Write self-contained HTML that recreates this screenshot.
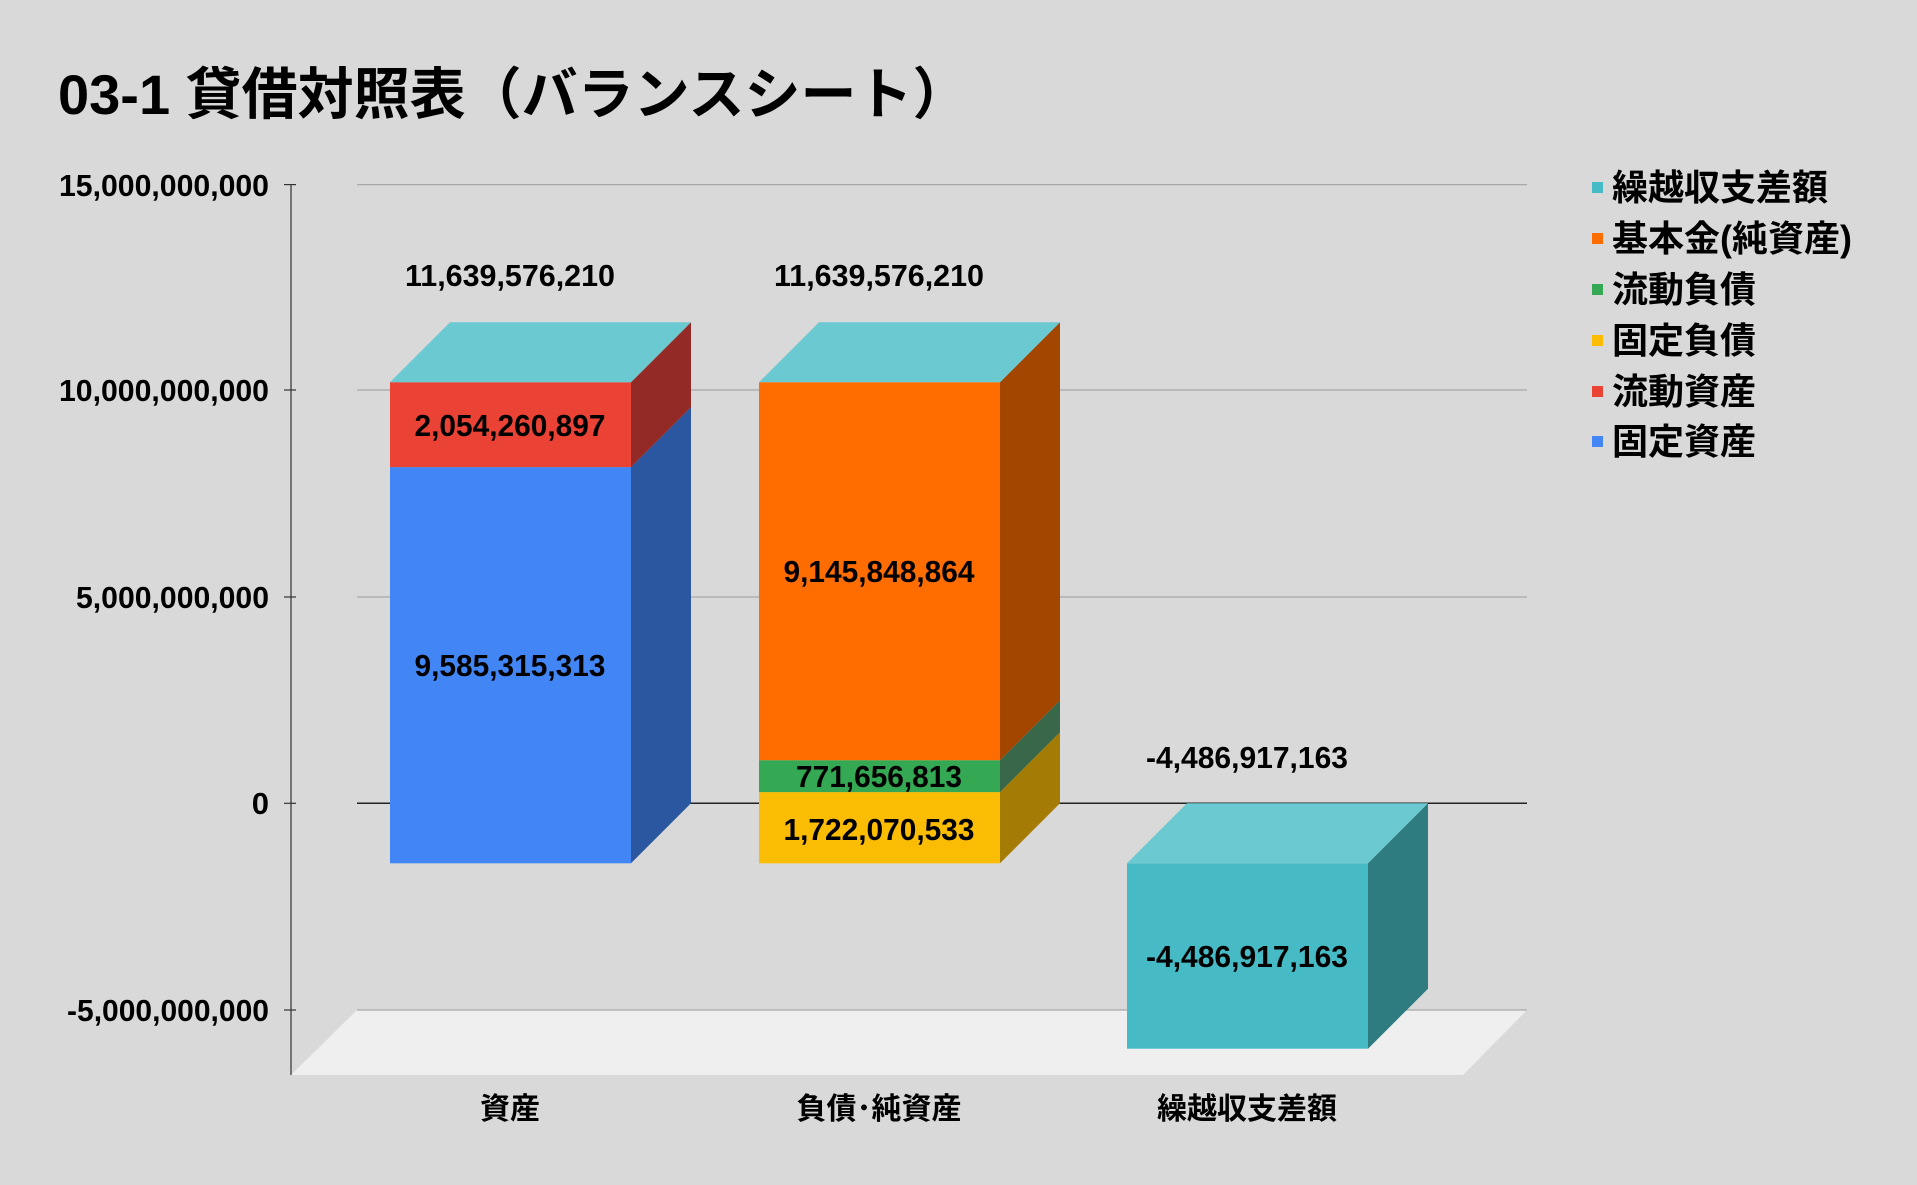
<!DOCTYPE html>
<html><head><meta charset="utf-8"><style>
html,body{margin:0;padding:0;background:#d9d9d9;}
svg{display:block;}
text{font-family:"Liberation Sans","Noto Sans CJK JP",sans-serif;font-weight:bold;fill:#000;}
</style></head><body>
<svg width="1917" height="1185" viewBox="0 0 1917 1185" xmlns="http://www.w3.org/2000/svg">
<rect width="1917" height="1185" fill="#d9d9d9"/>
<text x="58" y="114" font-size="56">03-1 貸借対照表（バランスシート）</text>
<polygon points="357,1010 1527,1010 1463,1075 291,1075" fill="#efefef"/>
<g stroke="#a8a8a8" stroke-width="1.2">
<line x1="357" y1="184.6" x2="1527" y2="184.6"/>
<line x1="357" y1="390" x2="1527" y2="390"/>
<line x1="357" y1="597" x2="1527" y2="597"/>
<line x1="357" y1="1010" x2="1527" y2="1010"/>
</g>
<line x1="357" y1="803.3" x2="1527" y2="803.3" stroke="#222" stroke-width="1.5"/>
<g stroke="#333" stroke-width="1.2">
<line x1="291" y1="184" x2="291" y2="1075"/>
<line x1="284" y1="184.6" x2="296" y2="184.6"/>
<line x1="284" y1="390" x2="296" y2="390"/>
<line x1="284" y1="597" x2="296" y2="597"/>
<line x1="284" y1="803.3" x2="296" y2="803.3"/>
<line x1="284" y1="1010" x2="296" y2="1010"/>
</g>
<g font-size="31" text-anchor="end" lengthAdjust="spacingAndGlyphs">
<text x="269" y="196" textLength="210" lengthAdjust="spacingAndGlyphs">15,000,000,000</text>
<text x="269" y="401" textLength="210" lengthAdjust="spacingAndGlyphs">10,000,000,000</text>
<text x="269" y="608" textLength="193" lengthAdjust="spacingAndGlyphs">5,000,000,000</text>
<text x="269" y="814">0</text>
<text x="269" y="1021" textLength="202" lengthAdjust="spacingAndGlyphs">-5,000,000,000</text>
</g>
<rect x="390" y="467.1" width="241" height="396.2" fill="#4285f4"/>
<rect x="390" y="382.2" width="241" height="84.9" fill="#ea4335"/>
<polygon points="631,863.3 691,803.3 691,407.1 631,467.1" fill="#2b56a0"/>
<polygon points="631,467.1 691,407.1 691,322.2 631,382.2" fill="#942a25"/>
<polygon points="390,382.2 631,382.2 691,322.2 450,322.2" fill="#6bc9d1"/>
<rect x="759" y="792.1" width="241" height="71.2" fill="#fbbc04"/>
<rect x="759" y="760.2" width="241" height="31.9" fill="#34a853"/>
<rect x="759" y="382.2" width="241" height="378" fill="#ff6d01"/>
<polygon points="1000,863.3 1060,803.3 1060,732.1 1000,792.1" fill="#a37b05"/>
<polygon points="1000,792.1 1060,732.1 1060,700.2 1000,760.2" fill="#386849"/>
<polygon points="1000,760.2 1060,700.2 1060,322.2 1000,382.2" fill="#a34700"/>
<polygon points="759,382.2 1000,382.2 1060,322.2 819,322.2" fill="#6bc9d1"/>
<rect x="1127" y="863.3" width="241" height="185.4" fill="#46bbc6"/>
<polygon points="1368,1048.7 1428,988.7 1428,803.3 1368,863.3" fill="#2e7b80"/>
<polygon points="1127,863.3 1368,863.3 1428,803.3 1187,803.3" fill="#6bc9d1"/>
<g font-size="31" text-anchor="middle">
<text x="510" y="286" textLength="210" lengthAdjust="spacingAndGlyphs">11,639,576,210</text>
<text x="879" y="286" textLength="210" lengthAdjust="spacingAndGlyphs">11,639,576,210</text>
<text x="510" y="436" textLength="191" lengthAdjust="spacingAndGlyphs">2,054,260,897</text>
<text x="510" y="676" textLength="191" lengthAdjust="spacingAndGlyphs">9,585,315,313</text>
<text x="879" y="582" textLength="191" lengthAdjust="spacingAndGlyphs">9,145,848,864</text>
<text x="879" y="787" textLength="166" lengthAdjust="spacingAndGlyphs">771,656,813</text>
<text x="879" y="840" textLength="191" lengthAdjust="spacingAndGlyphs">1,722,070,533</text>
<text x="1247" y="768" textLength="202" lengthAdjust="spacingAndGlyphs">-4,486,917,163</text>
<text x="1247" y="967" textLength="202" lengthAdjust="spacingAndGlyphs">-4,486,917,163</text>
</g>
<g font-size="30" text-anchor="middle">
<text x="510" y="1119">資産</text>
<text x="879" y="1119">負債･純資産</text>
<text x="1247" y="1119">繰越収支差額</text>
</g>
<g>
<rect x="1592" y="182" width="11" height="11" fill="#46bbc6"/>
<rect x="1592" y="233" width="11" height="11" fill="#ff6d01"/>
<rect x="1592" y="284" width="11" height="11" fill="#34a853"/>
<rect x="1592" y="335" width="11" height="11" fill="#fbbc04"/>
<rect x="1592" y="386" width="11" height="11" fill="#ea4335"/>
<rect x="1592" y="436" width="11" height="11" fill="#4285f4"/>
</g>
<g font-size="36">
<text x="1612" y="200">繰越収支差額</text>
<text x="1612" y="251">基本金(純資産)</text>
<text x="1612" y="302">流動負債</text>
<text x="1612" y="353">固定負債</text>
<text x="1612" y="404">流動資産</text>
<text x="1612" y="454">固定資産</text>
</g>
</svg>
</body></html>
